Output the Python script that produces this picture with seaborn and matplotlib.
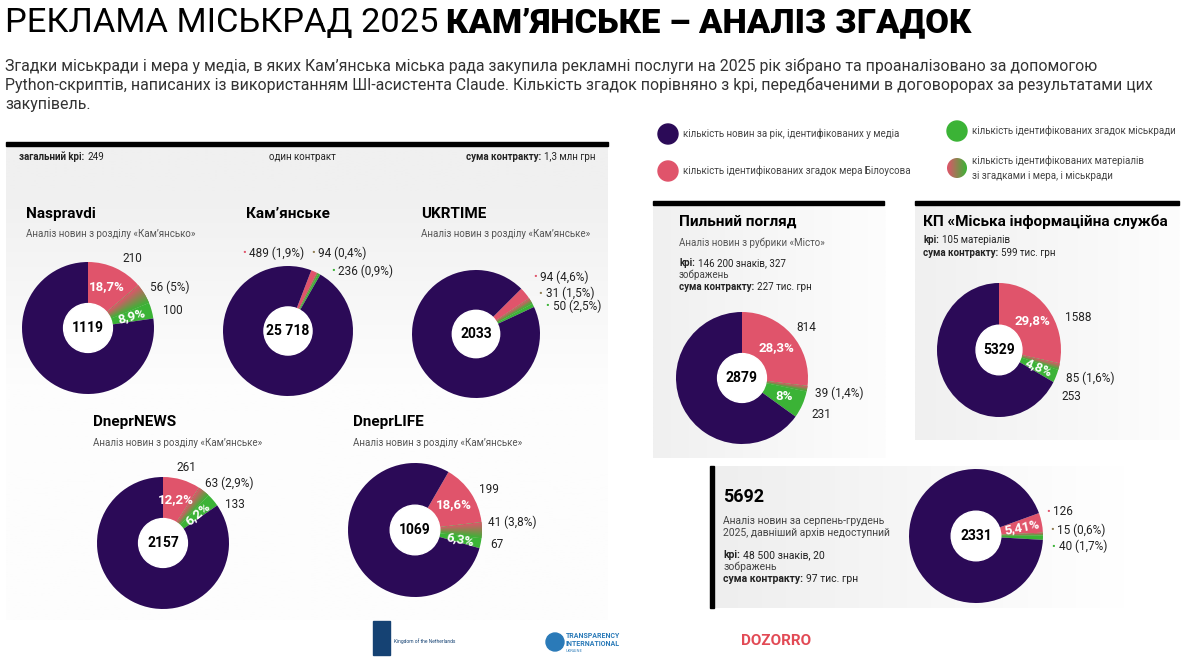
import numpy as np
import matplotlib.pyplot as plt
import seaborn as sns
from matplotlib.patches import Circle, Rectangle

sns.set_theme(style='white')
plt.rcParams['font.family'] = ['Roboto', 'DejaVu Sans']

W, H = 1185, 666

# --- data ---
outlets = ['Naspravdi', "Кам’янське", 'UKRTIME', 'DneprNEWS', 'DneprLIFE',
           'Пильний погляд', 'КП «Міська інформаційна служба', '5692']
totals = [1119, 25718, 2033, 2157, 1069, 2879, 5329, 2331]
mayor = [210, 489, 94, 261, 199, 814, 1588, 126]
both = [56, 94, 31, 63, 41, 39, 85, 15]
council = [100, 236, 50, 133, 67, 231, 253, 40]
mayor_pct = ['18,7%', '1,9%', '4,6%', '12,2%', '18,6%', '28,3%', '29,8%', '5,41%']
both_pct = ['5%', '0,4%', '1,5%', '2,9%', '3,8%', '1,4%', '1,6%', '0,6%']
council_pct = ['8,9%', '0,9%', '2,5%', '6,2%', '6,3%', '8%', '4,8%', '1,7%']

legend_labels = ['кількість новин за рік, ідентифікованих у медіа',
                 'кількість ідентифікованих згадок мера Білоусова',
                 'кількість ідентифікованих згадок міськради',
                 'кількість ідентифікованих матеріалів\nзі згадками і мера, і міськради']

PURPLE = '#2b0a57'
PINK = '#e0546b'
GREEN = '#3bb336'
MIX = '#8f7d52'
MIXCMAP = sns.blend_palette([PINK, GREEN], as_cmap=True)

# layout of each donut: centre (px), radii (px), start angle, label spots (radius units),
# bullet labels, which percentages go inside
layout = [
    dict(c=(88, 328), r=(66, 66), start=90, labs=[(0.52, 1.05), (0.94, 0.62), (1.14, 0.27)], bullet=False, inside='mc'),
    dict(c=(288, 331), r=(65, 65), start=69, labs=[(-0.68, 1.2), (0.38, 1.2), (0.69, 0.92)], bullet=True, inside=''),
    dict(c=(476, 334), r=(64, 64), start=45, labs=[(0.92, 0.89), (1.0, 0.63), (1.11, 0.44)], bullet=True, inside=''),
    dict(c=(163, 543), r=(66, 66), start=90, labs=[(0.21, 1.15), (0.64, 0.91), (0.94, 0.59)], bullet=False, inside='mc'),
    dict(c=(415, 530), r=(67, 67), start=60, labs=[(0.96, 0.60), (1.09, 0.12), (1.13, -0.21)], bullet=False, inside='mc'),
    dict(c=(742, 378), r=(66, 66), start=90, labs=[(0.83, 0.76), (1.11, -0.23), (1.05, -0.56)], bullet=False, inside='mc'),
    dict(c=(999, 350), r=(62, 67), start=90, labs=[(1.06, 0.48), (1.08, -0.42), (1.0, -0.70)], bullet=False, inside='mc'),
    dict(c=(976, 536), r=(67, 67), start=20, labs=[(1.07, 0.36), (1.13, 0.09), (1.15, -0.16)], bullet=True, inside='m'),
]

fig = plt.figure(figsize=(W / 100, H / 100), dpi=100)
bg = fig.add_axes([0, 0, 1, 1])
bg.axis('off')


def grad_rect(x0, y0, x1, y1, c0, c1, vertical=False, hold=0.0, reach=1.0):
    a = np.array(sns.color_palette([c0])[0])
    b = np.array(sns.color_palette([c1])[0])
    t = np.linspace(0, 1, 200)
    t = np.clip((t - hold) / (reach - hold), 0, 1)
    cols = a[None, :] * (1 - t[:, None]) + b[None, :] * t[:, None]
    img = cols[:, None, :] if vertical else cols[None, :, :]
    bg.imshow(img, extent=(x0, x1, y1, y0), aspect='auto', zorder=0, interpolation='bilinear')


# panel backgrounds
grad_rect(6, 146, 608, 620, '#f0f0f0', '#fdfdfd', vertical=True, hold=0.1, reach=0.5)
grad_rect(653, 204, 886, 458, '#f0f0f0', '#fdfdfd')
grad_rect(915, 204, 1180, 440, '#f0f0f0', '#fdfdfd')
grad_rect(713, 466, 1125, 608, '#eeeeee', '#ffffff')

# black bars
bg.add_patch(Rectangle((6, 142), 602, 4, color='black', zorder=1))
bg.add_patch(Rectangle((653, 201), 231, 4, color='black', zorder=1))
bg.add_patch(Rectangle((915, 201), 264, 4, color='black', zorder=1))
bg.add_patch(Rectangle((710, 466), 4, 142, color='black', zorder=1))

bg.set_xlim(0, W)
bg.set_ylim(H, 0)


def rich(x, y, parts, size=7, ha='left', color='#222222', gap=None):
    r = fig.canvas.get_renderer()
    texts = [bg.text(x, y, s, fontsize=size, fontweight=w, color=color, va='center', ha='left', zorder=3)
             for s, w in parts]
    widths = [t.get_window_extent(r).width for t in texts]
    if gap is None:
        gap = size * 0.45
    total = sum(widths) + gap * (len(widths) - 1)
    x0 = x - total if ha == 'right' else x
    for t, w in zip(texts, widths):
        t.set_x(x0)
        x0 += w + gap


# title and intro
rich(5, 23, [('РЕКЛАМА МІСЬКРАД 2025', 'normal'), ('КАМ’ЯНСЬКЕ – АНАЛІЗ ЗГАДОК', 'heavy')],
     size=24.8, color='black', gap=7)
intro = ['Згадки міськради і мера у медіа, в яких Кам’янська міська рада закупила рекламні послуги на 2025 рік зібрано та проаналізовано за допомогою',
         'Python-скриптів, написаних із використанням ШІ-асистента Claude. Кількість згадок порівняно з kpi, передбаченими в договорорах за результатами цих',
         'закупівель.']
for k, line in enumerate(intro):
    bg.text(5, 66 + k * 19, line, fontsize=11.4, color='#333333', va='center')

# left panel header
rich(19, 157, [('загальний kpi:', 'bold'), ('249', 'normal')], size=7)
bg.text(302, 157, 'один контракт', fontsize=7, color='#222222', ha='center', va='center')
rich(596, 157, [('сума контракту:', 'bold'), ('1,3 млн грн', 'normal')], size=7, ha='right')

# outlet titles and notes
title_pos = [(26, 214), (246, 214), (421, 214), (93, 422), (353, 422), (679, 222), (923, 222), (723, 497)]
for k, (name, (x, y)) in enumerate(zip(outlets, title_pos)):
    bg.text(x, y, name, fontsize=13 if k == 7 else 11, fontweight='bold', color='black', va='center')

sub_a = 'Аналіз новин з розділу «Кам’янсько»'
sub_b = 'Аналіз новин з розділу «Кам’янське»'
for txt, (x, y) in [(sub_a, (26, 234)), (sub_b, (421, 234)), (sub_b, (93, 443)), (sub_b, (353, 443)),
                    ('Аналіз новин з рубрики «Місто»', (679, 243))]:
    bg.text(x, y, txt, fontsize=7, color='#555555', va='center')

rich(679, 263, [('kpi:', 'bold'), ('146 200 знаків, 327', 'normal')], size=7)
bg.text(679, 275, 'зображень', fontsize=7, color='#444444', va='center')
rich(679, 287, [('сума контракту:', 'bold'), ('227 тис. грн', 'normal')], size=7)

rich(923, 240, [('kpi:', 'bold'), ('105 матеріалів', 'normal')], size=7)
rich(923, 253, [('сума контракту:', 'bold'), ('599 тис. грн', 'normal')], size=7)

bg.text(723, 521, 'Аналіз новин за серпень-грудень', fontsize=7.5, color='#444444', va='center')
bg.text(723, 533, '2025, давніший архів недоступний', fontsize=7.5, color='#444444', va='center')
rich(723, 555, [('kpi:', 'bold'), ('48 500 знаків, 20', 'normal')], size=7.5)
bg.text(723, 567, 'зображень', fontsize=7.5, color='#444444', va='center')
rich(723, 579, [('сума контракту:', 'bold'), ('97 тис. грн', 'normal')], size=7.5)

# legend
leg_pos = [(668, 134), (668, 171), (957, 131), (957, 168)]
for k, ((x, y), lab) in enumerate(zip(leg_pos, legend_labels)):
    if k < 3:
        bg.add_patch(Circle((x, y), 10, color=[PURPLE, PINK, GREEN][k], zorder=2))
    else:
        circ = Circle((x, y), 10, facecolor='none', edgecolor='none')
        bg.add_patch(circ)
        im = bg.imshow(np.linspace(0, 1, 50)[None, :], extent=(x - 10, x + 10, y + 10, y - 10),
                       cmap=MIXCMAP, aspect='auto', zorder=2)
        im.set_clip_path(circ)
    bg.text(x + 15, y, lab, fontsize=7, color='#444444', va='center', linespacing=1.6)

# partner logos
bg.add_patch(Rectangle((373, 621), 17, 34, color='#154273', zorder=2))
bg.text(394, 641, 'Kingdom of the Netherlands', fontsize=3.5, color='#154273', va='center')
bg.add_patch(Circle((555, 642), 9, color='#2a7ab8', zorder=2))
bg.text(566, 636, 'TRANSPARENCY', fontsize=5, fontweight='bold', color='#2a7ab8', va='center')
bg.text(566, 644, 'INTERNATIONAL', fontsize=5, fontweight='bold', color='#2a7ab8', va='center')
bg.text(566, 651, 'UKRAINE', fontsize=3, color='#2a7ab8', va='center')
bg.text(741, 641, 'DOZORRO', fontsize=11, fontweight='bold', color='#e24a55', va='center')

bg.set_xlim(0, W)
bg.set_ylim(H, 0)


def donut(i, st):
    (cx, cy), (rx, ry) = st['c'], st['r']
    ax = fig.add_axes([(cx - rx) / W, 1 - (cy + ry) / H, 2 * rx / W, 2 * ry / H])
    vals = [mayor[i] - both[i], both[i], council[i] - both[i],
            totals[i] - mayor[i] - council[i] + both[i]]
    wedges, _ = ax.pie(vals, colors=[PINK, MIX, GREEN, PURPLE], startangle=st['start'],
                       counterclock=False, radius=1, wedgeprops=dict(linewidth=0))
    # pink-to-green blend on the shared slice
    w = wedges[1]
    yy, xx = np.mgrid[1:-1:300j, -1:1:300j]
    ang = np.degrees(np.arctan2(yy, xx))
    span = max(w.theta2 - w.theta1, 1e-6)
    t = np.clip(((w.theta2 - ang) % 360) / span, 0, 1)
    im = ax.imshow(t, extent=(-1, 1, -1, 1), cmap=MIXCMAP, vmin=0, vmax=1, aspect='auto', zorder=2)
    im.set_clip_path(w)

    ax.add_patch(Circle((0, 0), 0.37, color='white', zorder=5))
    centre = f'{totals[i]:,}'.replace(',', ' ') if totals[i] >= 10000 else str(totals[i])
    ax.text(0, 0, centre, ha='center', va='center', fontsize=10, fontweight='bold', color='black', zorder=6)

    # percentages inside slices
    for key, idx, pct in [('m', 0, mayor_pct[i]), ('c', 2, council_pct[i])]:
        if key not in st['inside']:
            continue
        wd = wedges[idx]
        mid = (wd.theta1 + wd.theta2) / 2
        sp = wd.theta2 - wd.theta1
        rot = 0
        if sp < 20:
            rot = (mid + 90) % 180 - 90
        ax.text(0.69 * np.cos(np.radians(mid)), 0.69 * np.sin(np.radians(mid)), pct,
                ha='center', va='center', rotation=rot, fontsize=9.5, fontweight='bold',
                color='white', zorder=4)

    labs = [str(mayor[i]) if 'm' in st['inside'] else f'{mayor[i]} ({mayor_pct[i]})',
            f'{both[i]} ({both_pct[i]})',
            str(council[i]) if 'c' in st['inside'] else f'{council[i]} ({council_pct[i]})']
    for (lx, ly), lab, col in zip(st['labs'], labs, [PINK, MIX, GREEN]):
        if st['bullet']:
            ax.text(lx, ly, '•', color=col, fontsize=8, ha='center', va='center')
            ax.annotate(lab, (lx, ly), xytext=(4, 0), textcoords='offset points',
                        fontsize=8.5, color='#222222', ha='left', va='center',
                        annotation_clip=False)
        else:
            ax.text(lx, ly, lab, fontsize=8.5, color='#222222', ha='left', va='center')

    ax.set_xlim(-1, 1)
    ax.set_ylim(-1, 1)
    ax.set_aspect('auto')
    ax.axis('off')


for i, st in enumerate(layout):
    donut(i, st)

fig.savefig('out.png', dpi=100)
